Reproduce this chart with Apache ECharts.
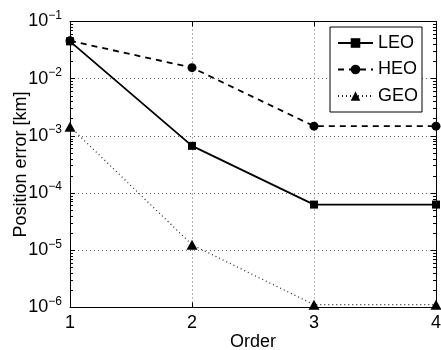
<!DOCTYPE html>
<html>
<head>
<meta charset="utf-8">
<script src="https://cdn.jsdelivr.net/npm/echarts@6/dist/echarts.min.js"></script>
<style>
  html, body { margin: 0; padding: 0; background: #fff; }
  #main { width: 441px; height: 350px; }
</style>
</head>
<body>
<div id="main"></div>
<script>
// 数据
var orders = [1, 2, 3, 4];
var leo = [0.045, 6.7e-4, 6.3e-5, 6.3e-5];
var heo = [0.046, 0.0156, 1.48e-3, 1.48e-3];
var geo = [1.45e-3, 1.25e-5, 1.12e-6, 1.12e-6];
var yTicks = [1e-6, 1e-5, 1e-4, 1e-3, 1e-2, 1e-1];

var FONT = 'Liberation Sans, Arial, Helvetica, sans-serif';

// minor ticks (2..9 per decade), on a fine category axis in log space
var logMin = -6, logMax = -1, step = 0.01;
var fine = [];
for (var i = 0; i <= Math.round((logMax - logMin) / step); i++) fine.push(String(i));
var minorIdx = {};
for (var d = logMin; d < logMax; d++) {
    for (var k = 2; k <= 9; k++) {
        minorIdx[Math.round((d + Math.log10(k) - logMin) / step)] = true;
    }
}

function pairs(ys) {
    return orders.map(function (x, i) { return [x, ys[i]]; });
}

var chart = echarts.init(document.getElementById('main'), null, { renderer: 'canvas' });

function minorAxis(pos) {
    return {
        type: 'category',
        position: pos,
        data: fine,
        boundaryGap: false,
        axisLine: { show: false },
        axisLabel: { show: false },
        splitLine: { show: false },
        axisTick: {
            inside: true,
            length: 3,
            interval: function (idx) { return !!minorIdx[idx]; },
            lineStyle: { color: '#000', width: 1 }
        }
    };
}

var option = {
    animation: false,
    textStyle: { fontFamily: FONT },
    grid: { left: 70, right: 5, top: 21.5, bottom: 42.5, containLabel: false, outerBoundsMode: 'none' },
    legend: {
        orient: 'vertical',
        left: 330,
        top: 27,
        padding: [7, 4, 7, 7],
        itemWidth: 35,
        itemHeight: 12,
        itemGap: 8.5,
        borderColor: '#000',
        borderWidth: 1,
        backgroundColor: '#fff',
        textStyle: { fontSize: 18, color: '#000', fontFamily: FONT },
        data: ['LEO', 'HEO', 'GEO']
    },
    xAxis: [{
        type: 'value',
        min: 1,
        max: 4,
        interval: 1,
        name: 'Order',
        nameLocation: 'middle',
        nameGap: 26,
        nameMoveOverlap: false,
        nameTextStyle: { fontSize: 18, color: '#000', fontFamily: FONT },
        axisLine: { lineStyle: { color: '#000', width: 1 } },
        axisTick: { inside: true, length: 5, lineStyle: { color: '#000' } },
        axisLabel: { fontSize: 18, color: '#000', margin: 7, fontFamily: FONT },
        splitLine: { show: true, lineStyle: { type: [1, 3], color: '#666', width: 1 } }
    }, {
        type: 'value',
        position: 'top',
        min: 1,
        max: 4,
        interval: 1,
        axisLine: { show: true, lineStyle: { color: '#000', width: 1 } },
        axisTick: { inside: true, length: 5, lineStyle: { color: '#000' } },
        axisLabel: { show: false },
        splitLine: { show: false }
    }],
    yAxis: [{
        type: 'log',
        logBase: 10,
        min: yTicks[0],
        max: yTicks[yTicks.length - 1],
        name: 'Position error [km]',
        nameLocation: 'middle',
        nameGap: 40,
        nameMoveOverlap: false,
        nameRotate: 90,
        nameTextStyle: { fontSize: 18, color: '#000', fontFamily: FONT },
        axisLine: { show: true, lineStyle: { color: '#000', width: 1 } },
        axisTick: { inside: true, length: 5, lineStyle: { color: '#000' } },
        axisLabel: {
            margin: 8,
            color: '#000',
            formatter: function (v) {
                var e = Math.round(Math.log10(v));
                return '{b|10}{s|' + String(e).replace('-', '\u2212') + '}';
            },
            rich: {
                b: { fontSize: 18, fontFamily: FONT, color: '#000' },
                s: { fontSize: 12, fontFamily: FONT, color: '#000', padding: [0, 0, 12, 0] }
            }
        },
        splitLine: { show: true, lineStyle: { type: [1, 3], color: '#666', width: 1 } }
    }, {
        type: 'log',
        logBase: 10,
        position: 'right',
        min: yTicks[0],
        max: yTicks[yTicks.length - 1],
        axisLine: { show: true, lineStyle: { color: '#000', width: 1 } },
        axisTick: { inside: true, length: 5, lineStyle: { color: '#000' } },
        axisLabel: { show: false },
        splitLine: { show: false }
    }, minorAxis('left'), minorAxis('right')],
    series: [{
        name: 'LEO',
        type: 'line',
        data: pairs(leo),
        symbol: 'rect',
        symbolSize: 8,
        itemStyle: { color: '#000' },
        lineStyle: { color: '#000', width: 1.8, type: 'solid' },
        z: 3
    }, {
        name: 'HEO',
        type: 'line',
        data: pairs(heo),
        symbol: 'circle',
        symbolSize: 9,
        itemStyle: { color: '#000' },
        lineStyle: { color: '#000', width: 1.8, type: [6, 5] },
        z: 3
    }, {
        name: 'GEO',
        type: 'line',
        data: pairs(geo),
        symbol: 'triangle',
        symbolSize: [11, 10],
        itemStyle: { color: '#000' },
        lineStyle: { color: '#222', width: 1.2, type: [1, 3] },
        z: 3
    }]
};

chart.setOption(option);
</script>
</body>
</html>
